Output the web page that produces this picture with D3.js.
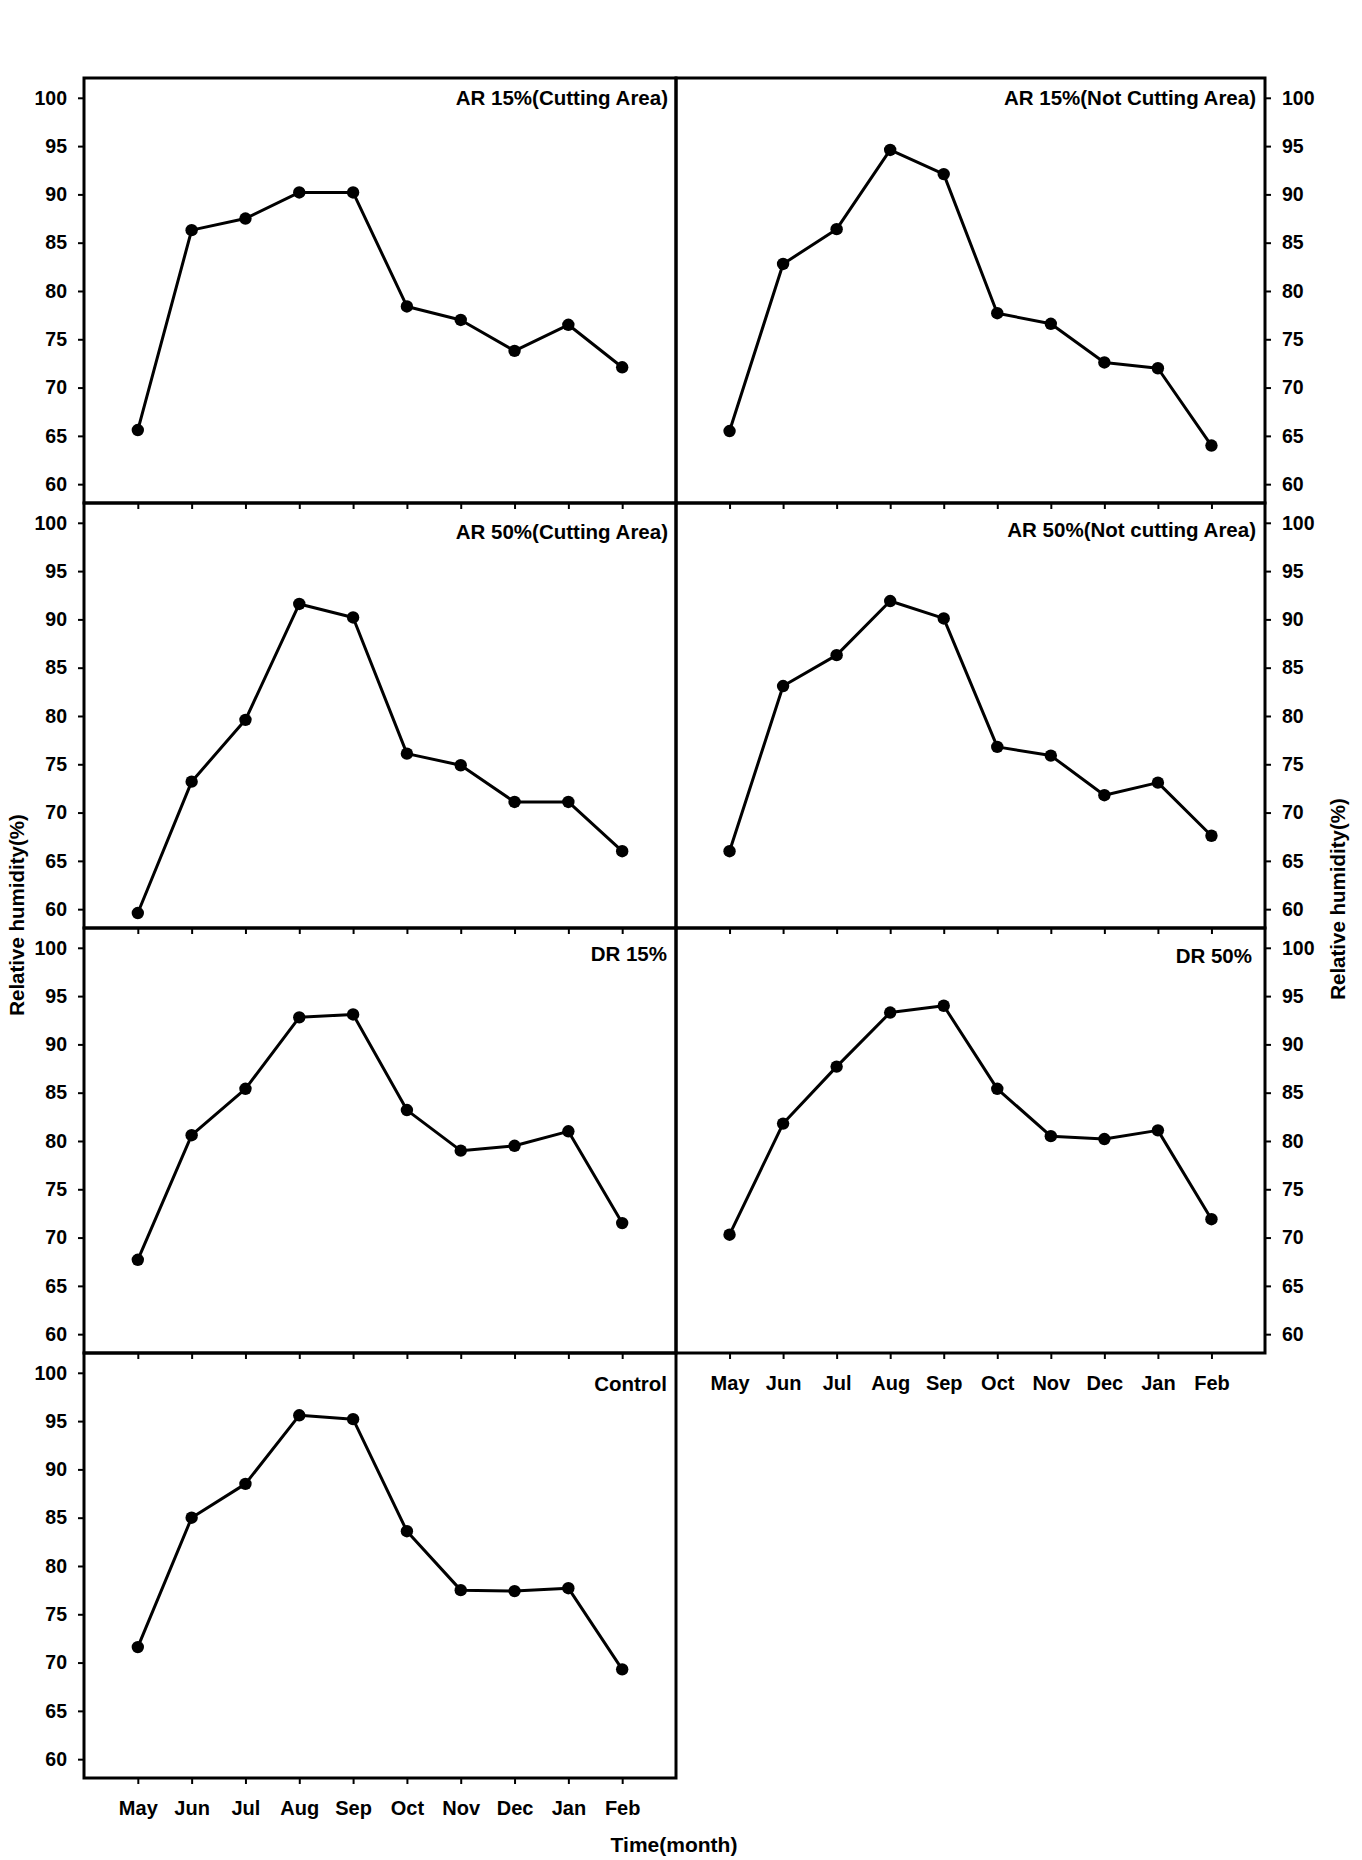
<!DOCTYPE html>
<html>
<head>
<meta charset="utf-8">
<script src="https://cdn.jsdelivr.net/npm/d3@7"></script>
<style>
  html, body { margin: 0; padding: 0; background: #fff; }
  text { font-family: "Liberation Sans", Arial, sans-serif; font-weight: bold; fill: #000; }
</style>
</head>
<body>
<svg id="chart" width="1362" height="1860"></svg>
<script>
// ---- data ----
const months = ["May", "Jun", "Jul", "Aug", "Sep", "Oct", "Nov", "Dec", "Jan", "Feb"];
const yTicks = [60, 65, 70, 75, 80, 85, 90, 95, 100];
const panelTitles = [
  "AR 15%(Cutting Area)", "AR 15%(Not Cutting Area)",
  "AR 50%(Cutting Area)", "AR 50%(Not cutting Area)",
  "DR 15%", "DR 50%", "Control"
];
const ar15Cutting    = [65.6, 86.3, 87.5, 90.2, 90.2, 78.4, 77.0, 73.8, 76.5, 72.1];
const ar15NotCutting = [65.5, 82.8, 86.4, 94.6, 92.1, 77.7, 76.6, 72.6, 72.0, 64.0];
const ar50Cutting    = [59.6, 73.2, 79.6, 91.6, 90.2, 76.1, 74.9, 71.1, 71.1, 66.0];
const ar50NotCutting = [66.0, 83.1, 86.3, 91.9, 90.1, 76.8, 75.9, 71.8, 73.1, 67.6];
const dr15           = [67.7, 80.6, 85.4, 92.8, 93.1, 83.2, 79.0, 79.5, 81.0, 71.5];
const dr50           = [70.3, 81.8, 87.7, 93.3, 94.0, 85.4, 80.5, 80.2, 81.1, 71.9];
const control        = [71.6, 85.0, 88.5, 95.6, 95.2, 83.6, 77.5, 77.4, 77.7, 69.3];
const seriesList = [ar15Cutting, ar15NotCutting, ar50Cutting, ar50NotCutting, dr15, dr50, control];
const yLabel = "Relative humidity(%)";
const xLabel = "Time(month)";

// ---- layout ----
const colX = [[84, 676], [676, 1265]];
const rowTop = 78, rowH = 425;
const titleDy = [19.5, 19.5, 28, 26, 25, 27, 30];
const titleInset = [8, 9, 8, 9, 9, 13, 9];
const bottomLabelPanels = [5, 6];

const svg = d3.select("#chart");
const yDomain = [58.05, 102.05];

seriesList.forEach((vals, i) => {
  const col = i % 2, row = Math.floor(i / 2);
  const x0 = colX[col][0], x1 = colX[col][1];
  const top = rowTop + row * rowH, bottom = top + rowH;
  const x = d3.scaleLinear().domain([-1, months.length]).range([x0, x1]);
  const y = d3.scaleLinear().domain(yDomain).range([bottom, top]);
  const g = svg.append("g");

  // y axis
  const yAxis = (col === 0 ? d3.axisLeft(y) : d3.axisRight(y))
    .tickValues(yTicks).tickSize(6).tickPadding(11).tickFormat(d3.format("d"));
  const ya = g.append("g")
    .attr("transform", `translate(${col === 0 ? x0 : x1},0)`)
    .call(yAxis);
  ya.select(".domain").remove();
  ya.selectAll("line").attr("stroke", "#000").attr("stroke-width", 2);
  ya.selectAll("text").style("font-size", "19.5px").style("font-family", "'Liberation Sans', Arial, sans-serif").style("font-weight", "bold");

  // x axis
  const showLabels = bottomLabelPanels.includes(i);
  const xAxis = d3.axisBottom(x).tickValues(d3.range(months.length))
    .tickSize(6).tickPadding(17)
    .tickFormat(d => showLabels ? months[d] : "");
  const xa = g.append("g").attr("transform", `translate(0,${bottom})`).call(xAxis);
  xa.select(".domain").remove();
  xa.selectAll("line").attr("stroke", "#000").attr("stroke-width", 2);
  xa.selectAll("text").style("font-size", "20px").style("font-family", "'Liberation Sans', Arial, sans-serif").style("font-weight", "bold");

  // frame
  g.append("rect")
    .attr("x", x0).attr("y", top).attr("width", x1 - x0).attr("height", rowH)
    .attr("fill", "none").attr("stroke", "#000").attr("stroke-width", 3);

  // line
  const line = d3.line().x((d, j) => x(j)).y(d => y(d));
  g.append("path").datum(vals)
    .attr("d", line).attr("fill", "none").attr("stroke", "#000")
    .attr("stroke-width", 3).attr("stroke-linejoin", "round");
  g.selectAll("circle.pt").data(vals).enter().append("circle")
    .attr("class", "pt")
    .attr("cx", (d, j) => x(j)).attr("cy", d => y(d)).attr("r", 6.2)
    .attr("fill", "#000");

  // title
  g.append("text")
    .attr("x", x1 - titleInset[i]).attr("y", top + titleDy[i] + 7.5)
    .attr("text-anchor", "end").style("font-size", "20.5px")
    .text(panelTitles[i]);
});

// axis titles
svg.append("text")
  .attr("transform", "translate(16,915) rotate(-90)")
  .attr("text-anchor", "middle").attr("dominant-baseline", "central")
  .style("font-size", "20.5px").text(yLabel);
svg.append("text")
  .attr("transform", "translate(1337,899) rotate(-90)")
  .attr("text-anchor", "middle").attr("dominant-baseline", "central")
  .style("font-size", "20.5px").text(yLabel);
svg.append("text")
  .attr("x", 674).attr("y", 1852)
  .attr("text-anchor", "middle")
  .style("font-size", "21px").text(xLabel);
</script>
</body>
</html>
